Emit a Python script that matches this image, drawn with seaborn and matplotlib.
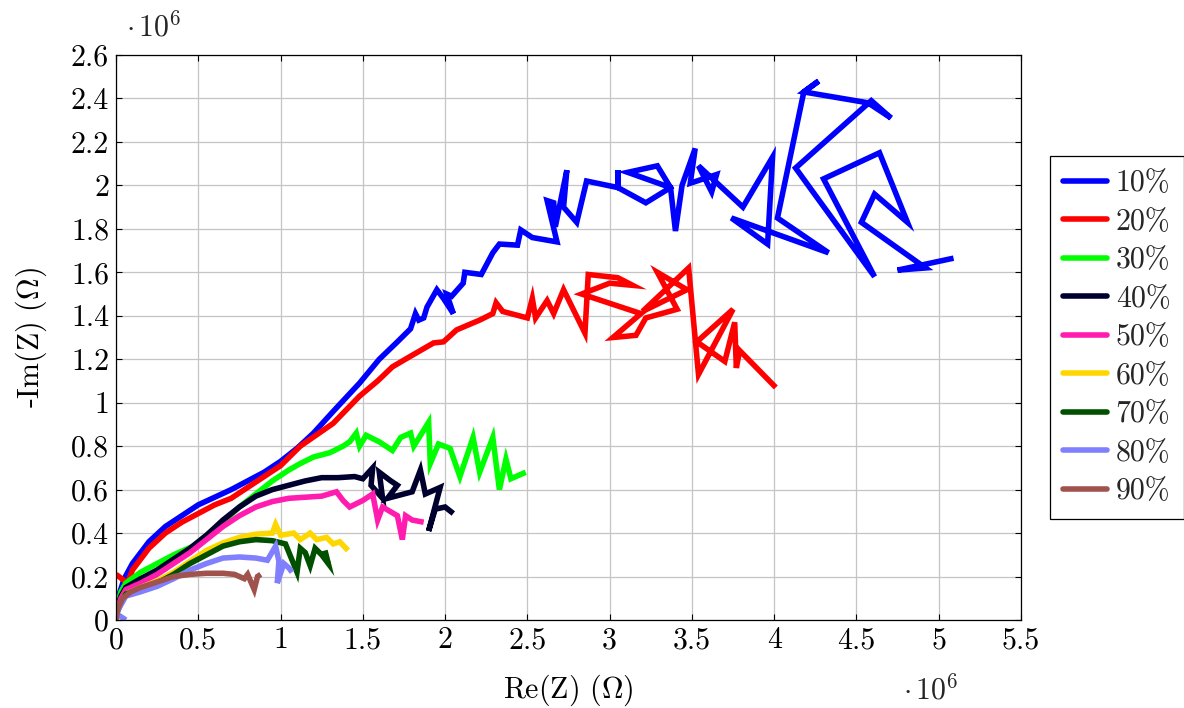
import numpy as np
import pandas as pd
import seaborn as sns
import matplotlib
matplotlib.use("Agg")
import matplotlib.pyplot as plt
from matplotlib.lines import Line2D

# ---- data (values in units of 1e6 Ohm) ----
labels = ["10%", "20%", "30%", "40%", "50%", "60%", "70%", "80%", "90%"]
colors = ["#0000ff", "#ff0000", "#00ff00", "#00002e", "#ff1cae",
          "#ffd700", "#005000", "#8080ff", "#a0524d"]

re_10 = [0.00, 0.02, 0.05, 0.10, 0.15, 0.20, 0.30, 0.40, 0.50, 0.60, 0.70, 0.80, 0.90, 1.00, 1.10, 1.20,
         1.32, 1.48, 1.60, 1.71, 1.79, 1.82, 1.84, 1.87, 1.89, 1.95, 1.99, 2.05, 2.01, 2.04, 2.11, 2.12,
         2.22, 2.29, 2.33, 2.44, 2.46, 2.53, 2.68, 2.62, 2.66, 2.67, 2.74, 2.72, 2.80, 2.86, 3.05, 3.05,
         3.05, 3.22, 3.37, 3.29, 3.11, 3.37, 3.40, 3.44, 3.52, 3.49, 3.65, 3.62, 3.54, 3.81, 3.99, 3.96,
         3.74, 4.33, 4.02, 4.18, 4.27, 4.18, 4.57, 4.71, 4.59, 4.13, 4.61, 4.30, 4.64, 4.81, 4.61, 4.53,
         4.92, 4.75, 5.09]
im_10 = [0.03, 0.12, 0.19, 0.26, 0.31, 0.36, 0.43, 0.48, 0.53, 0.565, 0.60, 0.64, 0.68, 0.73, 0.79, 0.86,
         0.96, 1.09, 1.20, 1.28, 1.34, 1.41, 1.38, 1.39, 1.44, 1.52, 1.48, 1.41, 1.50, 1.49, 1.55, 1.60,
         1.59, 1.69, 1.73, 1.725, 1.795, 1.76, 1.74, 1.93, 1.92, 1.81, 2.07, 1.90, 1.83, 2.02, 1.99, 2.07,
         1.99, 1.92, 1.99, 2.09, 2.06, 1.99, 1.79, 2.00, 2.17, 2.01, 2.05, 1.97, 2.09, 1.90, 2.13, 1.73,
         1.85, 1.69, 1.85, 2.43, 2.48, 2.43, 2.38, 2.31, 2.39, 2.08, 1.58, 2.03, 2.15, 1.83, 1.96, 1.83,
         1.62, 1.61, 1.665]

re_20 = [0.00, 0.07, 0.10, 0.20, 0.30, 0.40, 0.50, 0.60, 0.70, 0.80, 0.90, 1.00, 1.12, 1.32, 1.48, 1.59,
         1.68, 1.77, 1.85, 1.93, 1.99, 2.07, 2.21, 2.29, 2.31, 2.35, 2.50, 2.53, 2.55, 2.62, 2.66, 2.72,
         2.85, 2.87, 3.05, 3.14, 3.00, 2.83, 3.19, 3.02, 3.16, 3.22, 3.41, 3.29, 3.47, 3.20, 3.48, 3.54,
         3.75, 3.53, 3.70, 3.76, 3.77, 3.79, 4.01]
im_20 = [0.21, 0.17, 0.23, 0.33, 0.40, 0.45, 0.49, 0.53, 0.56, 0.61, 0.66, 0.71, 0.80, 0.905, 1.03, 1.10,
         1.165, 1.205, 1.24, 1.275, 1.28, 1.335, 1.38, 1.41, 1.46, 1.42, 1.39, 1.48, 1.39, 1.47, 1.41, 1.52,
         1.32, 1.59, 1.575, 1.54, 1.55, 1.50, 1.41, 1.30, 1.31, 1.39, 1.43, 1.60, 1.52, 1.42, 1.62, 1.13,
         1.43, 1.28, 1.19, 1.37, 1.16, 1.24, 1.07]

re_30 = [0.00, 0.03, 0.06, 0.15, 0.25, 0.35, 0.47, 0.55, 0.65, 0.75, 0.85, 0.95, 1.05, 1.12, 1.20, 1.30,
         1.38, 1.42, 1.46, 1.48, 1.52, 1.60, 1.68, 1.73, 1.79, 1.81, 1.90, 1.91, 1.96, 2.03, 2.09, 2.17,
         2.21, 2.29, 2.33, 2.37, 2.40, 2.49]
im_30 = [0.05, 0.13, 0.17, 0.22, 0.26, 0.30, 0.34, 0.39, 0.45, 0.52, 0.58, 0.64, 0.69, 0.72, 0.75, 0.77,
         0.80, 0.82, 0.86, 0.80, 0.85, 0.82, 0.78, 0.84, 0.86, 0.80, 0.91, 0.72, 0.81, 0.79, 0.66, 0.84,
         0.68, 0.84, 0.60, 0.74, 0.65, 0.68]

re_40 = [0.00, 0.03, 0.06, 0.15, 0.25, 0.35, 0.45, 0.55, 0.65, 0.75, 0.85, 0.95, 1.05, 1.15, 1.25, 1.35,
         1.45, 1.50, 1.56, 1.55, 1.62, 1.60, 1.67, 1.71, 1.65, 1.80, 1.85, 1.88, 1.97, 1.90, 1.94, 2.00, 2.05]
im_40 = [0.04, 0.11, 0.15, 0.19, 0.23, 0.28, 0.33, 0.39, 0.46, 0.52, 0.57, 0.60, 0.62, 0.64, 0.655, 0.655,
         0.66, 0.65, 0.70, 0.62, 0.56, 0.68, 0.64, 0.62, 0.56, 0.59, 0.69, 0.58, 0.61, 0.41, 0.51, 0.52, 0.49]

re_50 = [0.00, 0.03, 0.06, 0.15, 0.25, 0.35, 0.45, 0.55, 0.65, 0.75, 0.85, 0.95, 1.05, 1.15, 1.25, 1.34,
         1.38, 1.42, 1.50, 1.56, 1.59, 1.62, 1.71, 1.74, 1.76, 1.80, 1.87]
im_50 = [0.03, 0.10, 0.14, 0.17, 0.21, 0.26, 0.31, 0.37, 0.43, 0.48, 0.52, 0.545, 0.56, 0.565, 0.57, 0.59,
         0.55, 0.52, 0.55, 0.58, 0.46, 0.52, 0.48, 0.37, 0.48, 0.46, 0.45]

re_60 = [0.00, 0.03, 0.06, 0.15, 0.25, 0.35, 0.45, 0.55, 0.65, 0.75, 0.85, 0.95, 0.97, 1.00, 1.08, 1.12,
         1.18, 1.22, 1.28, 1.32, 1.36, 1.41]
im_60 = [0.02, 0.08, 0.12, 0.15, 0.18, 0.22, 0.27, 0.32, 0.355, 0.38, 0.395, 0.40, 0.44, 0.39, 0.40, 0.37,
         0.40, 0.37, 0.38, 0.35, 0.36, 0.32]

re_70 = [0.00, 0.03, 0.06, 0.15, 0.25, 0.35, 0.45, 0.55, 0.65, 0.75, 0.85, 0.95, 1.03, 1.10, 1.12, 1.15,
         1.18, 1.21, 1.25, 1.29, 1.27]
im_70 = [0.02, 0.08, 0.12, 0.14, 0.17, 0.21, 0.26, 0.30, 0.34, 0.36, 0.37, 0.365, 0.35, 0.22, 0.33, 0.31,
         0.25, 0.33, 0.30, 0.26, 0.32]

re_80 = [0.06, 0.00, 0.03, 0.06, 0.15, 0.25, 0.35, 0.45, 0.55, 0.65, 0.75, 0.85, 0.92, 0.97, 0.99, 0.98,
         1.02, 1.05, 1.07]
im_80 = [0.00, 0.03, 0.07, 0.11, 0.13, 0.155, 0.19, 0.23, 0.26, 0.285, 0.29, 0.285, 0.275, 0.34, 0.27, 0.17,
         0.26, 0.24, 0.22]

re_90 = [0.00, 0.01, 0.04, 0.09, 0.15, 0.25, 0.35, 0.45, 0.55, 0.65, 0.72, 0.78, 0.80, 0.84, 0.86, 0.88]
im_90 = [0.00, 0.05, 0.10, 0.13, 0.15, 0.175, 0.20, 0.21, 0.215, 0.215, 0.21, 0.19, 0.21, 0.14, 0.20, 0.21]

re_all = [re_10, re_20, re_30, re_40, re_50, re_60, re_70, re_80, re_90]
im_all = [im_10, im_20, im_30, im_40, im_50, im_60, im_70, im_80, im_90]

x_ticks = [0, 0.5, 1, 1.5, 2, 2.5, 3, 3.5, 4, 4.5, 5, 5.5]
x_ticklabels = ["0", "0.5", "1", "1.5", "2", "2.5", "3", "3.5", "4", "4.5", "5", "5.5"]
y_ticks = [0, 0.2, 0.4, 0.6, 0.8, 1.0, 1.2, 1.4, 1.6, 1.8, 2.0, 2.2, 2.4, 2.6]
y_ticklabels = ["0", "0.2", "0.4", "0.6", "0.8", "1", "1.2", "1.4", "1.6", "1.8", "2", "2.2", "2.4", "2.6"]

# ---- long table ----
rows = []
for lab, xs, ys in zip(labels, re_all, im_all):
    for i, (a, b) in enumerate(zip(xs, ys)):
        rows.append({"series": lab, "idx": i, "re": a, "im": b})
df = pd.DataFrame(rows)

sns.set_theme(style="whitegrid")
plt.rcParams["font.family"] = ["cmr10", "DejaVu Serif"]
plt.rcParams["mathtext.fontset"] = "cm"
plt.rcParams["axes.formatter.use_mathtext"] = True

FS = 21.5
fig = plt.figure(figsize=(11.84, 7.08), dpi=100)
ax = fig.add_axes([116 / 1184, 1 - 620 / 708, 905 / 1184, 565 / 708])

palette = dict(zip(labels, colors))
LW = 4.0
sns.lineplot(data=df, x="re", y="im", hue="series", palette=palette, units="series",
             sort=False, estimator=None, linewidth=LW, ax=ax, legend=False)
for ln in ax.get_lines():
    ln.set_solid_joinstyle("miter")
    ln.set_solid_capstyle("butt")

ax.set_xlim(0, 5.5)
ax.set_ylim(0, 2.6)
ax.set_xticks(x_ticks)
ax.set_xticklabels(x_ticklabels)
ax.set_yticks(y_ticks)
ax.set_yticklabels(y_ticklabels)
ax.tick_params(axis="both", labelsize=FS, direction="in", length=4, width=0.8,
               colors="black", pad=5, bottom=True, left=True, top=True, right=True)
ax.grid(True, color="#c4c4c4", linewidth=0.9)
ax.set_facecolor("white")
for s in ax.spines.values():
    s.set_color("black")
    s.set_linewidth(0.9)

ax.set_xlabel(r"Re(Z) ($\Omega$)", fontsize=FS, color="black", labelpad=13)
ax.set_ylabel(r"-Im(Z) ($\Omega$)", fontsize=FS, color="black", labelpad=16)

fig.text(126 / 1184, 1 - 27 / 708, r"$\cdot\,10^6$", fontsize=FS, ha="left", va="center")
fig.text(903 / 1184, 1 - 690 / 708, r"$\cdot\,10^6$", fontsize=FS, ha="left", va="center")

handles = [Line2D([0], [0], color=c, lw=LW) for c in colors]
leg = ax.legend(handles, labels, loc="center left", bbox_to_anchor=(1.032, 0.50),
                fontsize=FS, frameon=True, fancybox=False, framealpha=1,
                edgecolor="black", handlelength=1.45, handletextpad=0.3,
                labelspacing=0.37, borderpad=0.45, borderaxespad=0)
leg.get_frame().set_linewidth(0.9)

fig.savefig("out.png", dpi=100, facecolor="white")
